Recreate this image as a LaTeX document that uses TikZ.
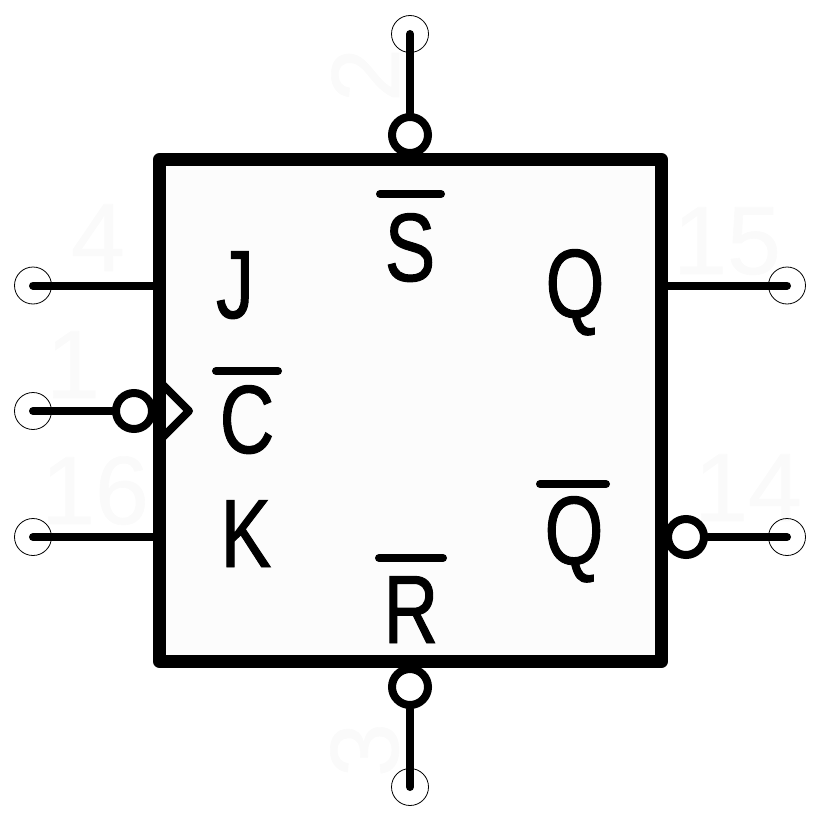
\documentclass[tikz,border=0pt]{standalone}
\usepackage{fontspec}
\setmainfont{Liberation Sans}[FakeStretch=0.78, FakeBold=1]
\newfontfamily\numfont{Liberation Sans}[FakeBold=0.6]
\definecolor{bodyfill}{HTML}{FCFCFC}
\definecolor{pinnum}{HTML}{FAFAFA}
\tikzset{
	pinend/.style={draw, circle, line width=0.8pt, minimum size=37pt, inner sep=0pt},
	bubble/.style={draw, circle, line width=8pt, minimum size=36pt, inner sep=0pt, fill=white},
	wire/.style={line width=8pt, line cap=round},
	overbar/.style={line width=8pt, line cap=round},
	pinlabel/.style={font=\fontsize{97}{97}\selectfont, inner sep=0pt, text height=70pt, text depth=0pt},
	pinnumber/.style={font=\numfont\fontsize{97}{97}\selectfont, inner sep=0pt, text height=70pt, text depth=0pt, text=pinnum},
}
\begin{document}
\begin{tikzpicture}[x=1pt, y=-1pt]
				\useasboundingbox (0,0) rectangle (822,824);

				% Pin numbers
				\node[pinnumber, rotate=90] (num2) at (364,75) {2};
				\node[pinnumber] (num4) at (98,236) {4};
				\node[pinnumber] (num1) at (73,363) {1};
				\node[pinnumber] (num16) at (95,489) {16};
				\node[pinnumber] (num15) at (727,239) {15};
				\node[pinnumber] (num14) at (748,486) {14};
				\node[pinnumber, rotate=90] (num3) at (363,750) {3};

				% Pin ends
				\node[pinend] (endS) at (410,34) {};
				\node[pinend] (endJ) at (33,285.5) {};
				\node[pinend] (endC) at (33,411) {};
				\node[pinend] (endK) at (33,537) {};
				\node[pinend] (endQ) at (787,285.5) {};
				\node[pinend] (endNQ) at (787,537) {};
				\node[pinend] (endR) at (410,787) {};

				% Flip-flop body
				\node[draw, rectangle, minimum size=502pt, line width=13pt, line join=round, fill=bodyfill, inner sep=0pt] (body) at (410.5,410.5) {};

				% Clock wedge
				\coordinate (wedgeTop) at (162,384);
				\coordinate (wedgeTip) at (189,411);
				\coordinate (wedgeLow) at (162,438);
				\draw[line width=8pt, line join=round] (wedgeTop) -- (wedgeTip) -- (wedgeLow);

				% Inverting bubbles
				\node[bubble] (bubS) at (410,135) {};
				\node[bubble] (bubC) at (134,411) {};
				\node[bubble] (bubNQ) at (686,537) {};
				\node[bubble] (bubR) at (410,687) {};

				% Wires
				\draw[wire] (endS.center) -- (bubS);
				\draw[wire] (endJ.center) -- (body.west |- endJ);
				\draw[wire] (endC.center) -- (bubC);
				\draw[wire] (endK.center) -- (body.west |- endK);
				\draw[wire] (endQ.center) -- (body.east |- endQ);
				\draw[wire] (endNQ.center) -- (bubNQ);
				\draw[wire] (endR.center) -- (bubR);

				% Inputs and outputs
				\node[pinlabel] (lblS) at (410,246) {S};
				\node[pinlabel] (lblJ) at (235,283) {J};
				\node[pinlabel] (lblC) at (247,418) {C};
				\node[pinlabel] (lblK) at (246,532) {K};
				\node[pinlabel] (lblQ) at (575,282) {Q};
				\node[pinlabel] (lblNQ) at (574,529) {Q};
				\node[pinlabel] (lblR) at (411,608) {R};

				% Bars over the active-low names
				\draw[overbar] (lblS.center) ++(-30,-52) -- ++(61,0);
				\draw[overbar] (lblC.center) ++(-31,-47) -- ++(62,0);
				\draw[overbar] (lblNQ.center) ++(-34,-45) -- ++(66,0);
				\draw[overbar] (lblR.center) ++(-32,-50) -- ++(64,0);
			\end{tikzpicture}
\end{document}
